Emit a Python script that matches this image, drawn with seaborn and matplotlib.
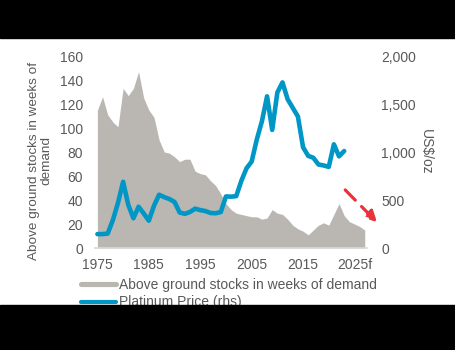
import matplotlib
matplotlib.use("Agg")
import matplotlib.pyplot as plt
from matplotlib.lines import Line2D
from matplotlib.patches import Rectangle
from matplotlib.ticker import FuncFormatter
import seaborn as sns
import pandas as pd

# === data ===
STOCK_YEARS = list(range(1975, 2028))
STOCK_WEEKS = [115, 126, 111, 105, 101, 133, 127, 133, 147, 125,
               115, 109, 90, 80, 79, 76, 72, 74, 74, 64,
               62, 61, 56, 52, 45, 37, 32, 29, 28, 27,
               26, 26, 24, 25, 32, 29, 28, 24, 19, 16,
               14, 11, 15, 19, 21, 19, 28, 37, 27, 22,
               20, 18, 15]

PRICE_YEARS = list(range(1975, 2024))
PRICE_USD = [145, 145, 150, 290, 470, 690, 450, 310, 430, 360,
             285, 440, 555, 530, 510, 480, 370, 356, 375, 410,
             395, 385, 365, 362, 375, 537, 535, 540, 700, 830,
             900, 1130, 1320, 1580, 1230, 1620, 1725, 1550, 1460, 1370,
             1050, 960, 940, 870, 860, 845, 1080, 955, 1010]

X_TICKS = [1975, 1985, 1995, 2005, 2015, 2025]
X_TICK_LABELS = ["1975", "1985", "1995", "2005", "2015", "2025f"]
LEFT_TICKS = [0, 20, 40, 60, 80, 100, 120, 140, 160]
RIGHT_TICKS = [0, 500, 1000, 1500, 2000]

# === style ===
GRAY_FILL = "#BAB6B1"
BLUE = "#0096C6"
RED = "#E8333B"
TEXT = "#595959"
FS = 10

sns.set_style("white")
plt.rcParams["font.family"] = ["Liberation Sans", "DejaVu Sans"]
plt.rcParams["font.size"] = FS

stocks = pd.DataFrame({"year": STOCK_YEARS, "weeks": STOCK_WEEKS})
price = pd.DataFrame({"year": PRICE_YEARS, "price": PRICE_USD})

fig = plt.figure(figsize=(4.56, 3.5), dpi=100)
ax = fig.add_axes([0.208, 0.2914, 0.8055 - 0.208, 0.84 - 0.2914])
ax2 = ax.twinx()

# area for stocks
ax.fill_between(stocks["year"], stocks["weeks"], 0, color=GRAY_FILL, lw=0)
# price line on the right axis
sns.lineplot(data=price, x="year", y="price", ax=ax2, color=BLUE,
             linewidth=3.3, solid_capstyle="round", solid_joinstyle="round")

ax.set_xlim(1974.5, 2027.5)
ax.set_ylim(0, 160)
ax2.set_ylim(0, 2000)
ax.set_xticks(X_TICKS)
ax.set_xticklabels(X_TICK_LABELS)
ax.set_yticks(LEFT_TICKS)
ax2.set_yticks(RIGHT_TICKS)
ax2.yaxis.set_major_formatter(FuncFormatter(lambda v, p: f"{v:,.0f}"))

ax.tick_params(axis="x", length=0, pad=7, colors=TEXT, labelsize=FS)
ax.tick_params(axis="y", length=0, pad=8.5, colors=TEXT, labelsize=FS)
ax2.tick_params(axis="y", length=0, pad=10, colors=TEXT, labelsize=FS)

for a in (ax, ax2):
    for s in ("top", "left", "right", "bottom"):
        a.spines[s].set_visible(False)
ax.spines["bottom"].set_visible(True)
ax.spines["bottom"].set_color("#D9D9D9")
ax.spines["bottom"].set_linewidth(1.2)

ax.set_xlabel("")
ax2.set_xlabel("")
ax.set_ylabel("Above ground stocks in weeks of\ndemand", color=TEXT, fontsize=9.7,
              linespacing=1.0)
ax.yaxis.set_label_coords(-0.156, 0.455)
ax2.set_ylabel("US$/oz", color=TEXT, fontsize=FS, rotation=270, labelpad=14)
ax2.yaxis.set_label_coords(1.24, 0.5)

# forecast arrow
ax2.annotate("", xy=(2029.4, 268), xytext=(2023.2, 605),
             arrowprops=dict(arrowstyle="-|>", color=RED, lw=2.3,
                             linestyle=(0, (4.5, 2.8)), mutation_scale=16,
                             shrinkA=0, shrinkB=0),
             annotation_clip=False)

handles = [Line2D([0], [0], color=GRAY_FILL, lw=3.7),
           Line2D([0], [0], color=BLUE, lw=3.0)]
labels = ["Above ground stocks in weeks of demand", "Platinum Price (rhs)"]
fig.legend(handles, labels, loc="upper left", bbox_to_anchor=(81 / 456, 1 - 278 / 350),
           frameon=False, fontsize=FS, handlelength=2.5, handletextpad=0.25,
           labelspacing=0.25, borderpad=0, borderaxespad=0, labelcolor=TEXT)

# black letterbox bands
fig.add_artist(Rectangle((0, 1 - 38 / 350), 1, 38 / 350, transform=fig.transFigure,
                         color="black", zorder=10))
fig.add_artist(Rectangle((0, 0), 1, 45 / 350, transform=fig.transFigure,
                         color="black", zorder=10))

fig.savefig("out.png", dpi=100, facecolor="white")
